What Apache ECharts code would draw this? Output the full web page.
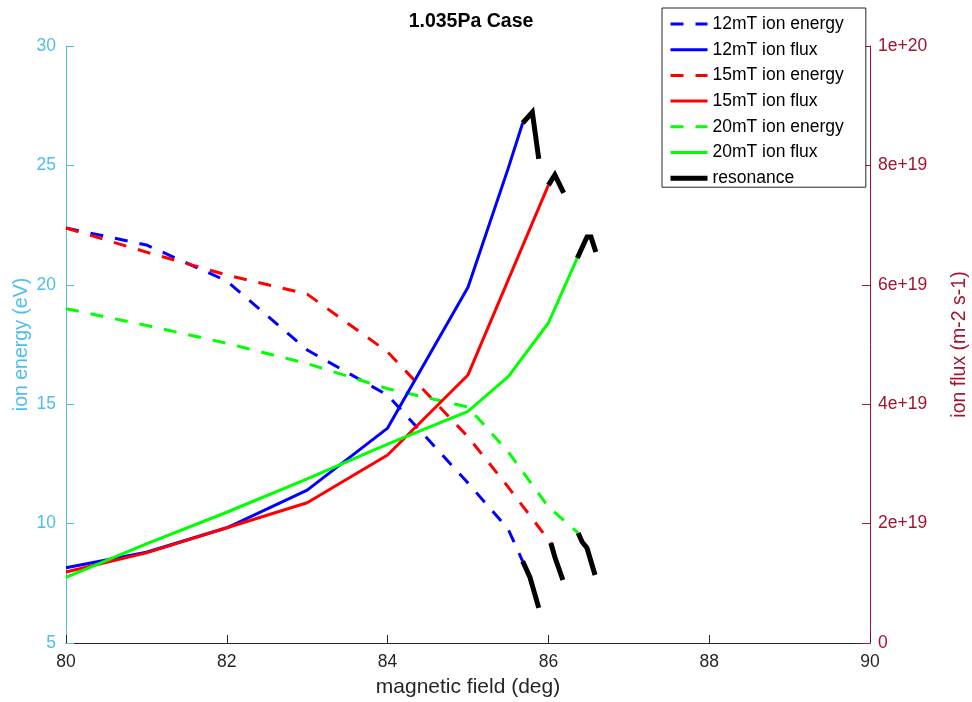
<!DOCTYPE html>
<html>
<head>
<meta charset="utf-8">
<script src="https://cdn.jsdelivr.net/npm/echarts@6/dist/echarts.min.js"></script>
<style>
  html, body { margin: 0; padding: 0; background: #fff; }
  #main { width: 972px; height: 702px; }
</style>
</head>
<body>
<div id="main"></div>
<script>
// 12mT
var field12E = [80, 81, 82, 83, 84, 85, 85.5, 85.68];
var energy12 = [22.38, 21.67, 20.16, 17.27, 15.38, 11.7, 9.77, 8.42];
var field12F = [80, 81, 82, 83, 84, 85, 85.5, 85.68];
var flux12 = [1.26e19, 1.52e19, 1.93e19, 2.56e19, 3.6e19, 5.96e19, 7.95e19, 8.71e19];
var res12FieldE = [85.68, 85.77, 85.88];
var res12Energy = [8.42, 7.76, 6.47];
var res12FieldF = [85.68, 85.8, 85.88];
var res12Flux = [8.71e19, 8.89e19, 8.11e19];

// 15mT
var field15E = [80, 81, 82, 83, 84, 85, 85.5, 86.03];
var energy15 = [22.38, 21.37, 20.41, 19.61, 17.19, 13.63, 11.53, 9.19];
var field15F = [80, 81, 82, 83, 84, 85, 86];
var flux15 = [1.19e19, 1.51e19, 1.93e19, 2.35e19, 3.15e19, 4.49e19, 7.67e19];
var res15FieldE = [86.03, 86.08, 86.18];
var res15Energy = [9.19, 8.6, 7.64];
var res15FieldF = [86, 86.08, 86.19];
var res15Flux = [7.67e19, 7.84e19, 7.54e19];

// 20mT
var field20E = [80, 81, 82, 83, 84, 85, 85.5, 86, 86.37];
var energy20 = [19.0, 18.3, 17.55, 16.7, 15.65, 14.88, 13.0, 10.7, 9.61];
var field20F = [80, 81, 82, 83, 84, 85, 85.5, 85.75, 86, 86.36];
var flux20 = [1.1e19, 1.66e19, 2.19e19, 2.75e19, 3.33e19, 3.88e19, 4.46e19, 4.91e19, 5.36e19, 6.45e19];
var res20FieldE = [86.37, 86.42, 86.48, 86.58];
var res20Energy = [9.61, 9.23, 8.98, 7.85];
var res20FieldF = [86.36, 86.48, 86.53, 86.59];
var res20Flux = [6.45e19, 6.8e19, 6.8e19, 6.55e19];

var xTicks = [80, 82, 84, 86, 88, 90];
var energyTicks = [5, 10, 15, 20, 25, 30];
var fluxTicks = [0, 2e19, 4e19, 6e19, 8e19, 1e20];

var legendNames = ['12mT ion energy', '12mT ion flux', '15mT ion energy', '15mT ion flux',
  '20mT ion energy', '20mT ion flux', 'resonance'];

var energyColor = '#4DBEEE';
var fluxColor = '#A2142F';
var font = 'Liberation Sans, Arial, Helvetica, sans-serif';
var dash = [13, 12];

function zip(xs, ys) {
  return xs.map(function (x, i) { return [x, ys[i]]; });
}

function mkLine(name, xs, ys, color, dashed, axis) {
  return {
    name: name,
    type: 'line',
    yAxisIndex: axis,
    data: zip(xs, ys),
    symbol: 'none',
    smooth: false,
    z: 2,
    lineStyle: { color: color, width: 3, type: dashed ? dash : 'solid' },
    itemStyle: { color: color }
  };
}

function mkRes(xs, ys, axis) {
  return {
    name: 'resonance',
    type: 'line',
    yAxisIndex: axis,
    data: zip(xs, ys),
    symbol: 'none',
    z: 5,
    lineStyle: { color: '#000', width: 5, cap: 'butt', join: 'miter' },
    itemStyle: { color: '#000' }
  };
}

// legend entries carry their own line look (dashed / solid / thick)
var legendColors = ['#0000FF', '#0000FF', '#FF0000', '#FF0000', '#00FF00', '#00FF00', '#000000'];
var legendItems = legendNames.map(function (n, i) {
  var isRes = n === 'resonance';
  return {
    name: n,
    itemStyle: { opacity: 0 },
    lineStyle: {
      color: legendColors[i],
      width: isRes ? 5 : 3,
      type: n.indexOf('energy') > -1 ? dash : 'solid'
    }
  };
});

var chart = echarts.init(document.getElementById('main'));

var option = {
  animation: false,
  backgroundColor: '#fff',
  textStyle: { fontFamily: font },
  title: {
    text: '1.035Pa Case',
    left: 466,
    textAlign: 'center',
    top: 7,
    textStyle: { fontSize: 19.5, fontWeight: 'bold', color: '#000', fontFamily: font }
  },
  legend: {
    data: legendItems,
    orient: 'vertical',
    left: 662,
    top: 8,
    itemWidth: 37,
    itemHeight: 14,
    itemGap: 7.7,
    padding: [7, 22, 0, 6],
    backgroundColor: '#fff',
    borderColor: '#262626',
    borderWidth: 1,
    borderRadius: 0,
    itemStyle: { opacity: 0 },
    textStyle: { fontSize: 17.5, lineHeight: 18, color: '#000', fontFamily: font }
  },
  grid: { left: 66, right: 102, top: 46, bottom: 59, containLabel: false, outerBoundsMode: 'none' },
  xAxis: {
    type: 'value',
    min: xTicks[0],
    max: xTicks[xTicks.length - 1],
    interval: 2,
    name: 'magnetic field (deg)',
    nameLocation: 'middle',
    nameGap: 34,
    nameMoveOverlap: false,
    nameTextStyle: { fontSize: 21, color: '#262626', fontFamily: font },
    axisLine: { lineStyle: { color: '#262626', width: 1 } },
    axisTick: { inside: true, length: 8, lineStyle: { color: '#262626' } },
    axisLabel: { fontSize: 17.5, color: '#262626', margin: 10, fontFamily: font },
    splitLine: { show: false }
  },
  yAxis: [{
    type: 'value',
    position: 'left',
    min: energyTicks[0],
    max: energyTicks[energyTicks.length - 1],
    interval: 5,
    name: 'ion energy (eV)',
    nameLocation: 'middle',
    nameRotate: 90,
    nameGap: 34,
    nameMoveOverlap: false,
    nameTextStyle: { fontSize: 19.5, color: energyColor, fontFamily: font },
    axisLine: { show: true, lineStyle: { color: energyColor, width: 1 } },
    axisTick: { show: true, inside: true, length: 8, lineStyle: { color: energyColor } },
    axisLabel: { fontSize: 17.5, color: energyColor, margin: 10, fontFamily: font },
    splitLine: { show: false }
  }, {
    type: 'value',
    position: 'right',
    min: fluxTicks[0],
    max: fluxTicks[fluxTicks.length - 1],
    interval: 2e19,
    name: 'ion flux (m-2 s-1)',
    nameLocation: 'middle',
    nameRotate: 90,
    nameGap: 80,
    nameMoveOverlap: false,
    nameTextStyle: { fontSize: 19.5, color: fluxColor, fontFamily: font },
    axisLine: { show: true, lineStyle: { color: fluxColor, width: 1 } },
    axisTick: { show: true, inside: true, length: 8, lineStyle: { color: fluxColor } },
    axisLabel: {
      fontSize: 17.5, color: fluxColor, margin: 8, fontFamily: font,
      formatter: function (v) { return v === 0 ? '0' : v.toExponential(); }
    },
    splitLine: { show: false }
  }],
  series: [
    mkLine('12mT ion energy', field12E, energy12, '#0000FF', true, 0),
    mkLine('15mT ion energy', field15E, energy15, '#FF0000', true, 0),
    mkLine('20mT ion energy', field20E, energy20, '#00FF00', true, 0),
    mkLine('12mT ion flux', field12F, flux12, '#0000FF', false, 1),
    mkLine('15mT ion flux', field15F, flux15, '#FF0000', false, 1),
    mkLine('20mT ion flux', field20F, flux20, '#00FF00', false, 1),
    mkRes(res12FieldE, res12Energy, 0),
    mkRes(res15FieldE, res15Energy, 0),
    mkRes(res20FieldE, res20Energy, 0),
    mkRes(res12FieldF, res12Flux, 1),
    mkRes(res15FieldF, res15Flux, 1),
    mkRes(res20FieldF, res20Flux, 1)
  ]
};

chart.setOption(option);
</script>
</body>
</html>
